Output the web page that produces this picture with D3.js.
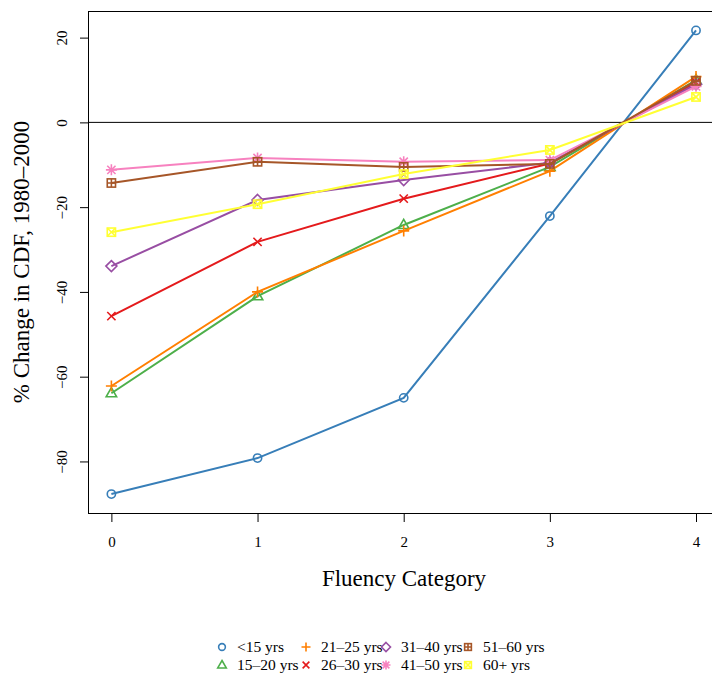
<!DOCTYPE html>
<html>
<head>
<meta charset="utf-8">
<script src="https://cdn.jsdelivr.net/npm/d3@7"></script>
<style>
  body { margin: 0; background: #fff; }
  svg text { font-family: "Liberation Serif", "DejaVu Serif", serif; fill: #000; }
</style>
</head>
<body>
<div id="chart"></div>
<script>
// fluency categories on the x axis
var categories = [0, 1, 2, 3, 4];
var yTicks = [-80, -60, -40, -20, 0, 20];

var seriesNames = ['<15 yrs', '15\u201320 yrs', '21\u201325 yrs', '26\u201330 yrs',
                   '31\u201340 yrs', '41\u201350 yrs', '51\u201360 yrs', '60+ yrs'];

// % change per age group
var under15 = [-87.7, -79.2, -65.0, -22.1, 21.7];
var age15to20 = [-63.9, -41.0, -24.2, -10.5, 10.0];
var age21to25 = [-62.2, -40.0, -25.6, -11.5, 10.8];
var age26to30 = [-45.7, -28.2, -18.0, -9.7, 9.4];
var age31to40 = [-33.9, -18.3, -13.6, -9.5, 9.0];
var age41to50 = [-11.2, -8.4, -9.3, -8.9, 8.5];
var age51to60 = [-14.3, -9.3, -10.5, -9.8, 9.8];
var age60plus = [-25.9, -19.3, -12.2, -6.5, 6.0];

var seriesValues = [under15, age15to20, age21to25, age26to30, age31to40, age41to50, age51to60, age60plus];
var colors = ['#377EB8', '#4DAF4A', '#FF7F00', '#E41A1C', '#984EA3', '#F781BF', '#A65628', '#FFFF33'];
var shapes = ['circle', 'triangle', 'plus', 'cross', 'diamond', 'asterisk', 'squareplus', 'squarecross'];

var width = 712, height = 675;
var svg = d3.select('#chart').append('svg')
    .attr('width', width)
    .attr('height', height);

var x = d3.scaleLinear().domain([-0.16, 4.16]).range([88, 719.4]);
var y = d3.scaleLinear().domain([-92.4, 26.4]).range([514, 10.5]);

// y axis
var yAxis = svg.append('g')
    .attr('transform', 'translate(88,0)')
    .call(d3.axisLeft(y).tickValues(yTicks).tickSize(8).tickPadding(0));
yAxis.select('.domain').remove();
yAxis.selectAll('line').attr('stroke', '#000');
yAxis.selectAll('text')
    .attr('x', 0).attr('y', 0).attr('dy', 0)
    .attr('transform', 'translate(-21,0) rotate(-90)')
    .attr('text-anchor', 'middle')
    .style('font-family', '"Liberation Serif", serif')
    .style('font-size', '15px');

// x axis
var xAxis = svg.append('g')
    .attr('transform', 'translate(0,514)')
    .call(d3.axisBottom(x).tickValues(categories).tickFormat(d3.format('d')).tickSize(8));
xAxis.select('.domain').remove();
xAxis.selectAll('line').attr('stroke', '#000');
xAxis.selectAll('text')
    .attr('y', 33).attr('dy', 0)
    .style('font-family', '"Liberation Serif", serif')
    .style('font-size', '15px');

// plot box
svg.append('rect')
    .attr('x', 88.5).attr('y', 11.5)
    .attr('width', 640).attr('height', 502)
    .attr('fill', 'none').attr('stroke', '#000').attr('stroke-width', 1);

// zero line
svg.append('line')
    .attr('x1', 88).attr('x2', 712)
    .attr('y1', y(0)).attr('y2', y(0))
    .attr('stroke', '#000').attr('stroke-width', 1);

var line = d3.line()
    .x(function(d, i) { return x(categories[i]); })
    .y(function(d) { return y(d); });

function drawShape(g, shape, cx, cy, color, s) {
    var p = g.append('g').attr('transform', 'translate(' + cx + ',' + cy + ')')
        .attr('fill', 'none').attr('stroke', color).attr('stroke-width', 1.6);
    switch (shape) {
        case 'circle':
            p.append('circle').attr('r', s * 0.75);
            break;
        case 'triangle':
            p.append('path').attr('d', 'M0,' + (-s) + 'L' + (s * 0.95) + ',' + (s * 0.65) + 'L' + (-s * 0.95) + ',' + (s * 0.65) + 'Z');
            break;
        case 'plus':
            p.append('path').attr('d', 'M' + (-s) + ',0H' + s + 'M0,' + (-s) + 'V' + s);
            break;
        case 'cross':
            p.append('path').attr('d', 'M' + (-s * 0.75) + ',' + (-s * 0.75) + 'L' + (s * 0.75) + ',' + (s * 0.75) + 'M' + (s * 0.75) + ',' + (-s * 0.75) + 'L' + (-s * 0.75) + ',' + (s * 0.75));
            break;
        case 'diamond':
            p.append('path').attr('d', 'M0,' + (-s) + 'L' + s + ',0L0,' + s + 'L' + (-s) + ',0Z');
            break;
        case 'asterisk':
            p.append('path').attr('d', 'M' + (-s) + ',0H' + s + 'M0,' + (-s) + 'V' + s +
                'M' + (-s * 0.75) + ',' + (-s * 0.75) + 'L' + (s * 0.75) + ',' + (s * 0.75) + 'M' + (s * 0.75) + ',' + (-s * 0.75) + 'L' + (-s * 0.75) + ',' + (s * 0.75));
            break;
        case 'squareplus':
            p.append('rect').attr('x', -s * 0.75).attr('y', -s * 0.75).attr('width', s * 1.5).attr('height', s * 1.5);
            p.append('path').attr('d', 'M' + (-s * 0.75) + ',0H' + (s * 0.75) + 'M0,' + (-s * 0.75) + 'V' + (s * 0.75));
            break;
        case 'squarecross':
            p.append('rect').attr('x', -s * 0.75).attr('y', -s * 0.75).attr('width', s * 1.5).attr('height', s * 1.5);
            p.append('path').attr('d', 'M' + (-s * 0.75) + ',' + (-s * 0.75) + 'L' + (s * 0.75) + ',' + (s * 0.75) + 'M' + (s * 0.75) + ',' + (-s * 0.75) + 'L' + (-s * 0.75) + ',' + (s * 0.75));
            break;
    }
}

var plot = svg.append('g');
seriesValues.forEach(function(vals, k) {
    plot.append('path')
        .datum(vals)
        .attr('d', line)
        .attr('fill', 'none')
        .attr('stroke', colors[k])
        .attr('stroke-width', 2);
    vals.forEach(function(v, i) {
        drawShape(plot, shapes[k], x(categories[i]), y(v), colors[k], 5.5);
    });
});

// axis titles
svg.append('text')
    .attr('x', 404).attr('y', 586)
    .attr('text-anchor', 'middle')
    .style('font-size', '23px')
    .text('Fluency Category');

svg.append('text')
    .attr('transform', 'translate(29,262) rotate(-90)')
    .attr('text-anchor', 'middle')
    .style('font-size', '23px')
    .text('% Change in CDF, 1980\u20132000');

// legend: 4 columns, 2 rows (filled by column)
var legendCols = [222, 306, 386, 468];
var legendRows = [647, 665];
var legend = svg.append('g');
seriesNames.forEach(function(name, k) {
    var col = Math.floor(k / 2), row = k % 2;
    var lx = legendCols[col], ly = legendRows[row];
    drawShape(legend, shapes[k], lx, ly, colors[k], 4.5);
    legend.append('text')
        .attr('x', lx + 15).attr('y', ly + 5)
        .style('font-size', '15.5px')
        .text(name);
});
</script>
</body>
</html>
